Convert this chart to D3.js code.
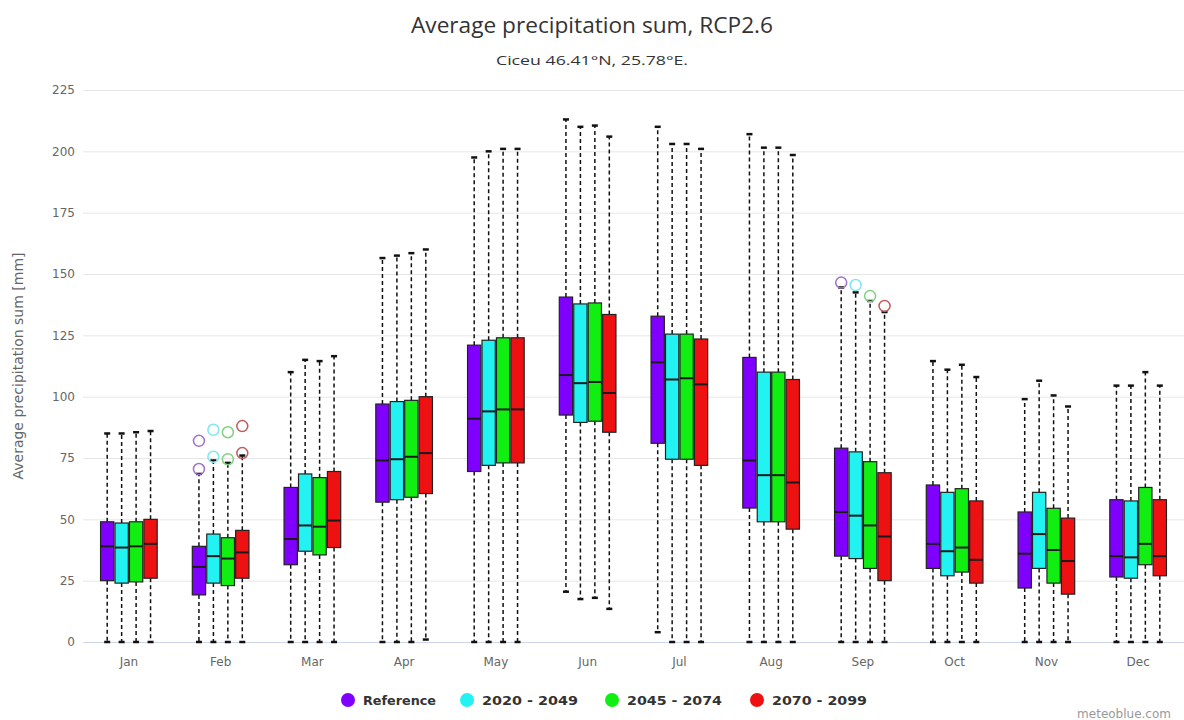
<!DOCTYPE html>
<html>
<head>
<meta charset="utf-8">
<script src="https://cdn.jsdelivr.net/npm/d3@7"></script>
<style>
  html, body { margin: 0; padding: 0; background: #fff; }
  svg { display: block; }
</style>
</head>
<body>
<div id="chart"></div>
<script>
// ---- Data ----
const months = ["Jan","Feb","Mar","Apr","May","Jun","Jul","Aug","Sep","Oct","Nov","Dec"];
const seriesNames = ["Reference","2020 - 2049","2045 - 2074","2070 - 2099"];
const seriesColors = ["#8000ff","#22f2f2","#11ee11","#ee1111"];
const outlierColors = ["#a070cc","#80e6f0","#80d080","#c05a5a"];
const yTicks = [0,25,50,75,100,125,150,175,200,225];

// [min, q1, median, q3, max] per month
const refBox = [
  [0,25,39,49,85],[0,19.2,30.6,39,68.5],[0,31.5,42,63,110],[0,57,74,97,156.5],
  [0,69.5,91,121,197.5],[20.5,92.5,108.8,140.6,213],[4,81,114,132.8,210],[0,54.6,74,116,207],
  [0,35,53,79,144.5],[0,30,40,64,114.5],[0,22,36,53,99],[0,26.5,35,58,104.5]
];
const p2020Box = [
  [0,24,38.5,48.5,85],[0,24,35,44,74],[0,37,47.5,68.5,115],[0,58,74.5,98,157.5],
  [0,72,94,123,200],[17.5,89.5,105.5,137.8,210],[0,74.5,107,125.5,203],[0,49,68,110,201.5],
  [0,34,51.5,77.5,142.5],[0,27,37,61,111],[0,30,44,61,106.5],[0,26,34.5,57.5,104.5]
];
const p2045Box = [
  [0,24.5,39,49,85.5],[0,23,34,42.5,73],[0,35.5,47,67,114.5],[0,59,75.5,98.5,158.5],
  [0,73,94.8,124,201],[18,90,106,138.2,210.5],[0,74.5,107.5,125.5,203],[0,49,68,110,201.5],
  [0,30,47.5,73.5,139],[0,28.5,38.5,62.5,113],[0,24,37.5,54.5,100.5],[0,31.5,40,63,110]
];
const p2070Box = [
  [0,26,40,50,86],[0,26,36.5,45.5,76],[0,38.5,49.5,69.5,116.5],[1,60.5,77,100,160],
  [0,73,94.8,124,201],[13.5,85.5,101.5,133.5,206],[0,72,105,123.5,201],[0,46,65,107,198.5],
  [0,25,43,69,134.5],[0,24,33.5,57.5,108],[0,19.5,33,50.5,96],[0,27,35,58,104.5]
];
// outliers: [monthIndex, value]
const refOutliers = [[1,70.5],[1,82],[8,146.5]];
const p2020Outliers = [[1,75.5],[1,86.5],[8,145.5]];
const p2045Outliers = [[1,74.5],[1,85.5],[8,141]];
const p2070Outliers = [[1,77],[1,88],[8,137]];

const boxes = [refBox, p2020Box, p2045Box, p2070Box];
const outliers = [refOutliers, p2020Outliers, p2045Outliers, p2070Outliers];

// ---- Layout ----
const W = 1184, H = 720;
const plot = {left: 83, right: 1184, top: 90, bottom: 642};

const svg = d3.select("#chart").append("svg").attr("width", W).attr("height", H);

const x0 = d3.scaleBand().domain(months).range([plot.left, plot.right]);
const bw = x0.bandwidth();
const x1 = d3.scaleBand().domain(seriesNames).range([bw*0.185, bw*0.815]).paddingInner(0.08).paddingOuter(0.04);
const y = d3.scaleLinear().domain([0,225]).range([plot.bottom, plot.top]);

// Titles
svg.append("text").attr("x", W/2).attr("y", 33).attr("text-anchor","middle")
  .attr("textLength", 362).attr("lengthAdjust","spacingAndGlyphs")
  .style("font-family","'Open Sans', sans-serif").style("font-size","22px").style("fill","#333")
  .text("Average precipitation sum, RCP2.6");
svg.append("text").attr("x", W/2).attr("y", 65).attr("text-anchor","middle")
  .attr("textLength", 192).attr("lengthAdjust","spacingAndGlyphs")
  .style("font-family","'Open Sans', sans-serif").style("font-size","13.5px").style("fill","#333")
  .text("Ciceu 46.41°N, 25.78°E.");

// Grid
const yAxis = d3.axisLeft(y).tickValues(yTicks).tickSize(-(plot.right-plot.left)).tickPadding(8);
const gy = svg.append("g").attr("transform", `translate(${plot.left},0)`).call(yAxis);
gy.select(".domain").remove();
gy.selectAll(".tick line").attr("stroke","#e6e6e6");
gy.selectAll(".tick text").style("font-family","'DejaVu Sans', sans-serif").style("font-size","12px").style("fill","#666");

// X axis
const xAxis = d3.axisBottom(x0).tickSize(0).tickPadding(15);
const gx = svg.append("g").attr("transform", `translate(0,${plot.bottom})`).call(xAxis);
gx.select(".domain").attr("stroke","#ccd6eb");
gx.selectAll(".tick text").style("font-family","'DejaVu Sans', sans-serif").style("font-size","12px").style("fill","#666");

// Y axis title
svg.append("text").attr("transform", `translate(23,${(plot.top+plot.bottom)/2}) rotate(-90)`)
  .attr("text-anchor","middle")
  .style("font-family","'DejaVu Sans', sans-serif").style("font-size","14px").style("fill","#666")
  .text("Average precipitation sum [mm]");

// Boxes
const boxW = x1.bandwidth();
const capW = 6;
seriesNames.forEach((name, si) => {
  const g = svg.append("g");
  boxes[si].forEach((d, mi) => {
    const cx = x0(months[mi]) + x1(name) + boxW/2;
    const [mn, q1, md, q3, mx] = d;
    // whisker stems
    g.append("line").attr("x1",cx).attr("x2",cx).attr("y1",y(q3)).attr("y2",y(mx))
      .attr("stroke","#111").attr("stroke-width",1.5).attr("stroke-dasharray","4,3");
    g.append("line").attr("x1",cx).attr("x2",cx).attr("y1",y(q1)).attr("y2",y(mn))
      .attr("stroke","#111").attr("stroke-width",1.5).attr("stroke-dasharray","4,3");
    // caps
    [mn, mx].forEach(v => {
      g.append("line").attr("x1",cx-capW/2).attr("x2",cx+capW/2).attr("y1",y(v)).attr("y2",y(v))
        .attr("stroke","#111").attr("stroke-width",2.5);
    });
    // box
    g.append("rect").attr("x", cx-boxW/2).attr("y", y(q3)).attr("width", boxW).attr("height", y(q1)-y(q3))
      .attr("fill", seriesColors[si]).attr("stroke","#222").attr("stroke-width",1.2);
    // median
    g.append("line").attr("x1",cx-boxW/2).attr("x2",cx+boxW/2).attr("y1",y(md)).attr("y2",y(md))
      .attr("stroke","#1a1a1a").attr("stroke-width",2);
  });
  outliers[si].forEach(([mi, v]) => {
    const cx = x0(months[mi]) + x1(name) + boxW/2;
    g.append("circle").attr("cx",cx).attr("cy",y(v)).attr("r",5.5)
      .attr("fill","none").attr("stroke",outlierColors[si]).attr("stroke-width",1.5);
  });
});

// Legend
const legendX = [348, 467, 612, 757];
const legendLen = [73, 96, 95, 95];
const lg = svg.append("g");
seriesNames.forEach((name, i) => {
  lg.append("circle").attr("cx", legendX[i]).attr("cy", 700).attr("r", 7).attr("fill", seriesColors[i]);
  lg.append("text").attr("x", legendX[i]+15).attr("y", 705)
    .attr("textLength", legendLen[i]).attr("lengthAdjust","spacingAndGlyphs")
    .style("font-family","'DejaVu Sans', sans-serif").style("font-size","13px").style("font-weight","bold").style("fill","#333")
    .text(name);
});

// Credits
svg.append("text").attr("x", 1171).attr("y", 718).attr("text-anchor","end")
  .style("font-family","'DejaVu Sans', sans-serif").style("font-size","12px").style("fill","#999")
  .text("meteoblue.com");
</script>
</body>
</html>
